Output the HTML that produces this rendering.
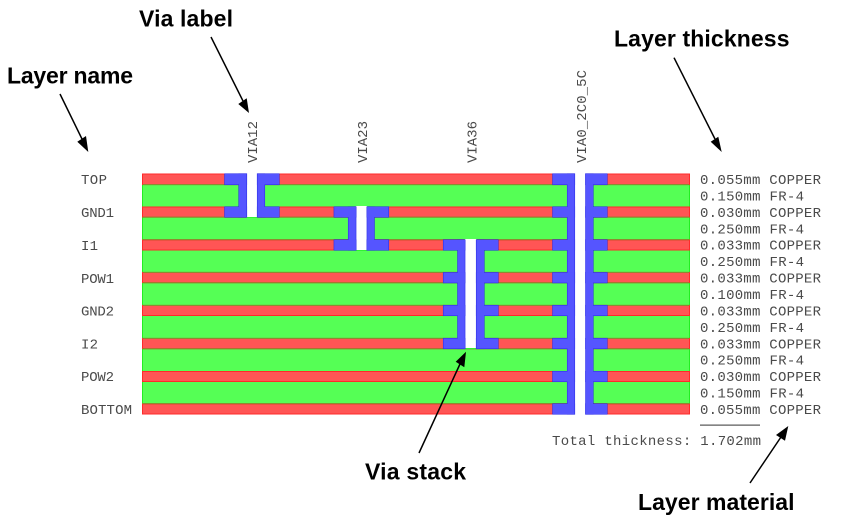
<!DOCTYPE html>
<html>
<head>
<meta charset="utf-8">
<style>
html,body{margin:0;padding:0;background:#fff;width:847px;height:527px;overflow:hidden}
svg{display:block}
.t{font-family:"Liberation Mono",monospace;font-size:14px;fill:#4a4a4a}
.a{font-family:"Liberation Sans",sans-serif;font-size:23px;font-weight:bold;fill:#000}
</style>
</head>
<body>
<svg width="847" height="527" viewBox="0 0 847 527" xmlns="http://www.w3.org/2000/svg">
<defs>
<g id="vias">
<!-- VIA12 -->
<rect x="239" y="174" width="7.5" height="43"/><rect x="224.8" y="174" width="21.7" height="10.5"/><rect x="224.8" y="207" width="21.7" height="10"/>
<rect x="257.5" y="174" width="7" height="43"/><rect x="257.5" y="174" width="21.5" height="10.5"/><rect x="257.5" y="207" width="21.5" height="10"/>
<!-- VIA23 -->
<rect x="348.5" y="207" width="7.3" height="43"/><rect x="334.2" y="207" width="21.6" height="10"/><rect x="334.2" y="240" width="21.6" height="10"/>
<rect x="367.2" y="207" width="7" height="43"/><rect x="367.2" y="207" width="21.3" height="10"/><rect x="367.2" y="240" width="21.3" height="10"/>
<!-- VIA36 -->
<rect x="457.8" y="240" width="7" height="108.5"/>
<rect x="443.5" y="240" width="21.3" height="10"/><rect x="443.5" y="272.7" width="21.3" height="10"/><rect x="443.5" y="305.5" width="21.3" height="10"/><rect x="443.5" y="338.5" width="21.3" height="10"/>
<rect x="476.5" y="240" width="7.5" height="108.5"/>
<rect x="476.5" y="240" width="21.5" height="10"/><rect x="476.5" y="272.7" width="21.5" height="10"/><rect x="476.5" y="305.5" width="21.5" height="10"/><rect x="476.5" y="338.5" width="21.5" height="10"/>
<!-- VIA0_2C0_5C -->
<rect x="567.5" y="174" width="7" height="240"/>
<rect x="552.8" y="174" width="21.7" height="10.5"/><rect x="552.8" y="207" width="21.7" height="10"/><rect x="552.8" y="240" width="21.7" height="10"/><rect x="552.8" y="272.7" width="21.7" height="10"/><rect x="552.8" y="305.5" width="21.7" height="10"/><rect x="552.8" y="338.5" width="21.7" height="10"/><rect x="552.8" y="371.5" width="21.7" height="10"/><rect x="552.8" y="404" width="21.7" height="10"/>
<rect x="585.8" y="174" width="7.2" height="240"/>
<rect x="585.8" y="174" width="21.2" height="10.5"/><rect x="585.8" y="207" width="21.2" height="10"/><rect x="585.8" y="240" width="21.2" height="10"/><rect x="585.8" y="272.7" width="21.2" height="10"/><rect x="585.8" y="305.5" width="21.2" height="10"/><rect x="585.8" y="338.5" width="21.2" height="10"/><rect x="585.8" y="371.5" width="21.2" height="10"/><rect x="585.8" y="404" width="21.2" height="10"/>
</g>
</defs>

<rect width="847" height="527" fill="#fff"/>

<!-- green dielectric layers -->
<g fill="#55ff55">
<rect x="142" y="185" width="548" height="22"/>
<rect x="142" y="217.5" width="548" height="22"/>
<rect x="142" y="250.5" width="548" height="22"/>
<rect x="142" y="283" width="548" height="22"/>
<rect x="142" y="316" width="548" height="22"/>
<rect x="142" y="349" width="548" height="22"/>
<rect x="142" y="382" width="548" height="22"/>
</g>
<g fill="#22ee22">
<rect x="142" y="185" width="1" height="219"/>
<rect x="689" y="185" width="1" height="219"/>
</g>

<!-- red copper layers -->
<g fill="#ff5555" stroke="#ff2a2a" stroke-width="1">
<rect x="142.5" y="174" width="547" height="10.5"/>
<rect x="142.5" y="207" width="547" height="10"/>
<rect x="142.5" y="240" width="547" height="10"/>
<rect x="142.5" y="272.5" width="547" height="10"/>
<rect x="142.5" y="305.5" width="547" height="10"/>
<rect x="142.5" y="338.5" width="547" height="10"/>
<rect x="142.5" y="371.5" width="547" height="10"/>
<rect x="142.5" y="404" width="547" height="10"/>
</g>
<!-- olive edges -->
<g fill="#8f8a30">
<rect x="143" y="184" width="546" height="1.2"/>
<rect x="143" y="216.6" width="546" height="1.2"/>
<rect x="143" y="239" width="546" height="1.2"/>
<rect x="143" y="271.8" width="546" height="1.2"/>
<rect x="143" y="282.2" width="546" height="1.2"/>
<rect x="143" y="304.8" width="546" height="1.2"/>
<rect x="143" y="337.8" width="546" height="1.2"/>
<rect x="143" y="348.2" width="546" height="1.2"/>
<rect x="143" y="403" width="546" height="1.2"/>
</g>

<!-- drilled through holes -->
<g fill="#fff">
<rect x="246.5" y="173" width="11" height="44"/>
<rect x="355.8" y="206" width="11.4" height="44"/>
<rect x="464.8" y="239" width="11.7" height="109.5"/>
<rect x="574.5" y="173" width="11.3" height="242"/>
</g>
<g fill="#33f033">
<rect x="246.5" y="217" width="11" height="1"/>
<rect x="355.8" y="250" width="11.4" height="1"/>
<rect x="464.8" y="348" width="11.7" height="1"/>
</g>

<!-- vias -->
<use href="#vias" fill="#2c2ce6" stroke="#2c2ce6" stroke-width="1.1"/>
<use href="#vias" fill="#5555ff"/>

<!-- layer names -->
<g class="t">
<text x="81" y="184" textLength="26">TOP</text>
<text x="81" y="217" textLength="33">GND1</text>
<text x="81" y="250" textLength="17">I1</text>
<text x="81" y="283" textLength="33">POW1</text>
<text x="81" y="315.5" textLength="33">GND2</text>
<text x="81" y="348.5" textLength="17">I2</text>
<text x="81" y="381" textLength="33">POW2</text>
<text x="81" y="414" textLength="51">BOTTOM</text>

<!-- layer stack-up -->
<text x="700" y="184" textLength="121">0.055mm COPPER</text>
<text x="700" y="200.5" textLength="104">0.150mm FR-4</text>
<text x="700" y="217" textLength="121">0.030mm COPPER</text>
<text x="700" y="233.3" textLength="104">0.250mm FR-4</text>
<text x="700" y="249.7" textLength="121">0.033mm COPPER</text>
<text x="700" y="266.2" textLength="104">0.250mm FR-4</text>
<text x="700" y="282.6" textLength="121">0.033mm COPPER</text>
<text x="700" y="299" textLength="104">0.100mm FR-4</text>
<text x="700" y="315.5" textLength="121">0.033mm COPPER</text>
<text x="700" y="331.9" textLength="104">0.250mm FR-4</text>
<text x="700" y="348.3" textLength="121">0.033mm COPPER</text>
<text x="700" y="364.7" textLength="104">0.250mm FR-4</text>
<text x="700" y="381.2" textLength="121">0.030mm COPPER</text>
<text x="700" y="397.6" textLength="104">0.150mm FR-4</text>
<text x="700" y="414" textLength="121">0.055mm COPPER</text>
<text x="552" y="445" textLength="209">Total thickness: 1.702mm</text>

<!-- via labels -->
<text transform="translate(257,163) rotate(-90)" textLength="42">VIA12</text>
<text transform="translate(367,163) rotate(-90)" textLength="42">VIA23</text>
<text transform="translate(476.5,163) rotate(-90)" textLength="42">VIA36</text>
<text transform="translate(586,163) rotate(-90)" textLength="93">VIA0_2C0_5C</text>
</g>
<rect x="700" y="424.6" width="60" height="1" fill="#333"/>

<!-- annotations -->
<text class="a" x="139" y="26.7" textLength="94">Via label</text>
<text class="a" x="614" y="46.7" textLength="175.5">Layer thickness</text>
<text class="a" x="7" y="83.5" textLength="126">Layer name</text>
<text class="a" x="365" y="479.3" textLength="101">Via stack</text>
<text class="a" x="638" y="510" textLength="156.5">Layer material</text>

<!-- arrows -->
<g stroke="#000" stroke-width="1.5" fill="none">
<line x1="211" y1="37" x2="243" y2="101"/>
<line x1="674" y1="57.7" x2="715" y2="139"/>
<line x1="60" y1="94" x2="82" y2="139"/>
<line x1="419" y1="453" x2="460" y2="364"/>
<line x1="750" y1="483" x2="781" y2="437"/>
</g>
<g fill="#000">
<polygon points="249,113 238.3,104 246.7,98.3"/>
<polygon points="721.7,152 710.7,141.7 718.3,136.7"/>
<polygon points="88.3,152 77.3,141.7 86,136"/>
<polygon points="466,351.7 455.7,361.7 464.3,367.3"/>
<polygon points="788.3,426 776,435 785,440.7"/>
</g>
</svg>
</body>
</html>
